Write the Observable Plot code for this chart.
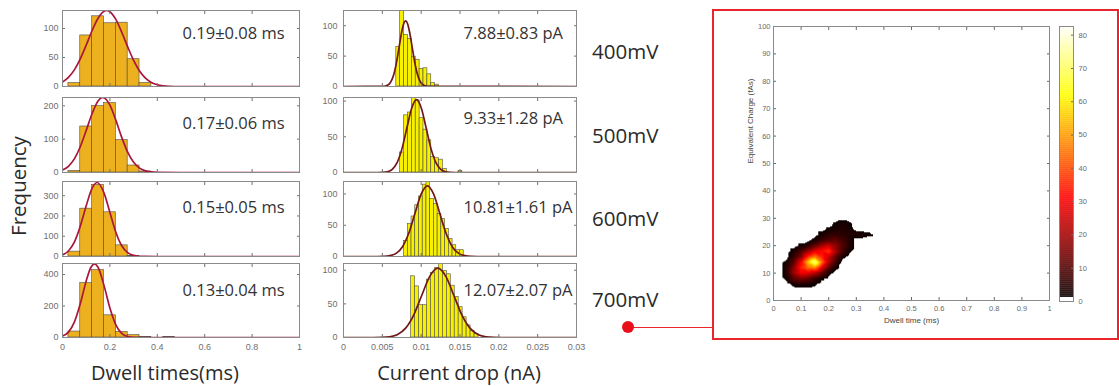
<!DOCTYPE html>
<html><head><meta charset="utf-8">
<script src="https://cdn.jsdelivr.net/npm/d3@7"></script>
<script src="https://cdn.jsdelivr.net/npm/@observablehq/plot@0.6"></script>
<style>
html,body{margin:0;padding:0;background:#fff;}
#fig{position:relative;width:1119px;height:386px;overflow:hidden;background:#fff;}
#fig svg{position:absolute;background:transparent;max-width:none;}
.lbl{position:absolute;white-space:nowrap;line-height:1;color:#2a2a2a;font-family:"Open Sans",sans-serif;}
</style></head><body><div id="fig"></div>
<script>
// ---------- data ----------
const voltages = ["400mV", "500mV", "600mV", "700mV"];
const dwellStats = ["0.19±0.08 ms", "0.17±0.06 ms", "0.15±0.05 ms", "0.13±0.04 ms"];
const currentStats = ["7.88±0.83 pA", "9.33±1.28 pA", "10.81±1.61 pA", "12.07±2.07 pA"];

const dwellBinStart = [0.025, 0.025, 0.025, 0.025];
const dwellBinWidth = [0.05, 0.05, 0.05, 0.05];
const dwellCounts = [
  [6, 88, 121, 109, 110, 47, 6],
  [5, 138, 199, 208, 97, 21, 3],
  [24, 236, 353, 218, 55, 3],
  [38, 345, 428, 141, 36, 15, 3, 0, 2]
];
const dwellFitX = [
  [0, 0.025, 0.05, 0.075, 0.1, 0.125, 0.15, 0.186, 0.2, 0.225, 0.25, 0.275, 0.3, 0.325, 0.35, 0.375, 0.4, 0.45, 0.5, 1],
  [0, 0.025, 0.05, 0.075, 0.1, 0.125, 0.15, 0.17, 0.2, 0.225, 0.25, 0.275, 0.3, 0.325, 0.35, 0.375, 0.4, 0.5, 1],
  [0, 0.025, 0.05, 0.075, 0.1, 0.125, 0.146, 0.175, 0.2, 0.225, 0.25, 0.275, 0.3, 0.325, 0.35, 0.4, 1],
  [0, 0.025, 0.05, 0.075, 0.1, 0.12, 0.135, 0.15, 0.175, 0.2, 0.225, 0.25, 0.275, 0.3, 0.35, 1]
];
const dwellFitY = [
  [7.6, 15.6, 28.6, 47.6, 71.3, 96.5, 117.7, 131, 128.9, 115.6, 93.5, 68.3, 45, 26.8, 14.4, 7, 3, 0.4, 0, 0],
  [7.4, 18.7, 41, 77.3, 126, 177, 214.6, 225, 202, 157, 105.5, 61, 30.4, 13.1, 4.9, 1.6, 0.4, 0, 0],
  [8, 27, 70.8, 149, 250, 337, 365, 314, 217, 120, 53, 18.9, 5.4, 1.2, 0.2, 0, 0],
  [9, 34, 97.6, 214, 359, 446, 468, 446, 331, 187, 80.7, 26.5, 6.7, 1.3, 0, 0]
];
const dwellYMax = [131, 225, 370, 470];
const dwellYTicks = [[0, 50, 100], [0, 100, 200], [0, 100, 200, 300], [0, 200, 400]];
const dwellXTicks = [0, 0.2, 0.4, 0.6, 0.8, 1];

const currentBinStart = [0.0068, 0.0073, 0.0078, 0.00871];
const currentBinWidth = [0.0005, 0.0005, 0.00048, 0.00051];
const currentCounts = [
  [65, 135, 85, 78, 49, 44, 29, 30, 20, 6, 3],
  [28, 80, 84, 110, 101, 76, 60, 45, 22, 20, 18, 5, 0, 0, 0, 2],
  [25, 52, 64, 82, 96, 115, 125, 92, 84, 68, 60, 44, 28, 18, 10, 10],
  [91, 76, 48, 48, 86, 96, 103, 112, 99, 94, 77, 60, 45, 30, 18, 10, 5]
];
const currentFitX = [
  [0, 0.005, 0.0055, 0.006, 0.00625, 0.0065, 0.00675, 0.007, 0.00725, 0.0075, 0.00775, 0.008, 0.00825, 0.0085, 0.00875, 0.009, 0.00925, 0.0095, 0.00975, 0.01, 0.0105, 0.011, 0.03],
  [0, 0.0044, 0.005025, 0.00565, 0.006275, 0.0069, 0.007525, 0.00815, 0.008775, 0.0094, 0.010025, 0.01065, 0.011275, 0.0119, 0.012525, 0.01315, 0.013775, 0.0144, 0.03],
  [0, 0.00436, 0.005165, 0.00597, 0.006775, 0.00758, 0.008385, 0.00919, 0.009995, 0.0108, 0.011605, 0.01241, 0.013215, 0.01402, 0.014825, 0.01563, 0.016435, 0.01724, 0.03],
  [0, 0.00386, 0.004895, 0.00593, 0.006965, 0.008, 0.009035, 0.01007, 0.011105, 0.01214, 0.013175, 0.01421, 0.015245, 0.01628, 0.017315, 0.01835, 0.019385, 0.02042, 0.03]
];
const currentFitY = [
  [0, 0.2, 1.2, 5.9, 11.7, 21.1, 34.7, 52.3, 71.8, 90, 103.2, 108, 103.2, 90, 71.8, 52.3, 34.7, 21.1, 11.7, 5.9, 1.2, 0.2, 0],
  [0, 0, 0.2, 1.1, 4.5, 13.8, 33.1, 61.9, 90, 102, 90, 61.9, 33.1, 13.8, 4.5, 1.1, 0.2, 0, 0],
  [0, 0, 0.25, 1.3, 5, 15.3, 36.7, 68.5, 99.7, 113, 99.7, 68.5, 36.7, 15.3, 5, 1.3, 0.25, 0, 0],
  [0, 0, 0.2, 1.1, 4.5, 13.9, 33.4, 62.5, 90.9, 103, 90.9, 62.5, 33.4, 13.9, 4.5, 1.1, 0.2, 0, 0]
];
const currentYMax = [125, 105, 120, 110];
const currentYTicks = [[0, 50, 100], [0, 50, 100], [0, 50, 100], [0, 50, 100]];
const currentXTicks = [0, 0.005, 0.01, 0.015, 0.02, 0.025, 0.03];

// 2D density (dwell time x equivalent charge), rows from top (high charge) to bottom
const heatX = [0.025, 0.05, 0.075, 0.1, 0.125, 0.15, 0.175, 0.2, 0.225, 0.25, 0.275, 0.3, 0.325, 0.35, 0.375, 0.4];
const heatY = [30, 28, 26, 24, 22, 20, 18, 16, 14, 12, 10, 8, 6, 4];
const heatValues = [
  [0, 0, 0, 0, 0, 0, 0, 0, 0, 0, 0, 0, 0, 0, 0, 0],
  [0, 0, 0, 0, 0, 0, 0, 0, 2, 3, 2, 0, 0, 0, 0, 0],
  [0, 0, 0, 0, 0, 0, 0, 2, 3, 4, 3, 0, 0, 0, 0, 0],
  [0, 0, 0, 0, 0, 0, 3, 5, 6, 5, 4, 4, 3, 2, 0, 0],
  [0, 0, 0, 0, 0, 3, 7, 10, 12, 8, 4, 0, 0, 0, 0, 0],
  [0, 0, 0, 2, 6, 12, 20, 25, 18, 10, 4, 0, 0, 0, 0, 0],
  [0, 0, 3, 9, 18, 28, 32, 38, 20, 8, 2, 0, 0, 0, 0, 0],
  [0, 0, 6, 15, 35, 45, 35, 25, 12, 3, 0, 0, 0, 0, 0, 0],
  [0, 3, 12, 30, 55, 75, 45, 22, 8, 0, 0, 0, 0, 0, 0, 0],
  [0, 5, 18, 35, 45, 48, 28, 12, 3, 0, 0, 0, 0, 0, 0, 0],
  [0, 5, 20, 30, 28, 22, 12, 3, 0, 0, 0, 0, 0, 0, 0, 0],
  [0, 3, 12, 15, 12, 6, 2, 0, 0, 0, 0, 0, 0, 0, 0, 0],
  [0, 0, 3, 4, 3, 2, 0, 0, 0, 0, 0, 0, 0, 0, 0, 0],
  [0, 0, 0, 0, 0, 0, 0, 0, 0, 0, 0, 0, 0, 0, 0, 0]
];
const heatXTicks = [0, 0.1, 0.2, 0.3, 0.4, 0.5, 0.6, 0.7, 0.8, 0.9, 1];
const heatYTicks = [0, 10, 20, 30, 40, 50, 60, 70, 80, 90, 100];
const colorbarTicks = [0, 10, 20, 30, 40, 50, 60, 70, 80];
const colorbarMax = 82.6;

// ---------- layout ----------
const fig = document.getElementById("fig");
function place(node, left, top) {
  node.style.left = left + "px";
  node.style.top = top + "px";
  fig.appendChild(node);
}
function label(text, x, y, size, opts = {}) {
  const d = document.createElement("div");
  d.className = "lbl";
  d.textContent = text;
  d.style.fontSize = size + "px";
  d.style.left = x + "px";
  d.style.top = y + "px";
  const ax = opts.align === "start" ? "0" : "-50%";
  d.style.transform = `translate(${ax},-50%)` + (opts.rotate ? ` rotate(${opts.rotate}deg)` : "");
  fig.appendChild(d);
}

const frames = [[10, 86], [97, 172], [181, 256], [263, 337]];
const textDy = [[23, 26, 26, 27], [23, 21, 26, 27]];
const hotColor = {
  type: "linear",
  domain: [0, 1.29, 1.3, 31, 62, 83],
  range: ["#ffffff", "#ffffff", "#0b0000", "#ff0000", "#ffff00", "#ffffff"],
  interpolate: "rgb"
};
const axisCol = "#707070", frameCol = "#8a8a8a";

function histPanel(col, i) {
  const dwell = col === 0;
  const [t, b] = frames[i];
  const fx0 = dwell ? 62 : 343, fx1 = dwell ? 299 : 576;
  const ML = 40, MR = 6, MT = 3;
  const MB = i === 3 ? 26 : 3;
  const start = dwell ? dwellBinStart[i] : currentBinStart[i];
  const w = dwell ? dwellBinWidth[i] : currentBinWidth[i];
  const counts = dwell ? dwellCounts[i] : currentCounts[i];
  const bars = counts.map((c, k) => ({x1: start + k * w, x2: start + (k + 1) * w, y: c})).filter(d => d.y > 0);
  const fx = dwell ? dwellFitX[i] : currentFitX[i];
  const fy = dwell ? dwellFitY[i] : currentFitY[i];
  const fit = fx.map((x, k) => ({x, y: fy[k]}));
  const xTicks = dwell ? dwellXTicks : currentXTicks;
  const yTicks = dwell ? dwellYTicks[i] : currentYTicks[i];
  const svg = Plot.plot({
    width: ML + (fx1 - fx0) + MR,
    height: MT + (b - t) + MB,
    marginLeft: ML, marginRight: MR, marginTop: MT, marginBottom: MB,
    x: {domain: dwell ? [0, 1] : [0, 0.03]},
    y: {domain: [0, dwell ? dwellYMax[i] : currentYMax[i]]},
    style: {fontFamily: "'Liberation Sans', Arial, sans-serif", fontSize: "9px", color: axisCol, background: "transparent", overflow: "visible"},
    marks: [
      Plot.rect(bars, {x1: "x1", x2: "x2", y1: 0, y2: "y",
        fill: dwell ? "#EDB120" : "#F7F000", stroke: "#4d4d4d", strokeWidth: 0.6, clip: true}),
      Plot.line(fit, {x: "x", y: "y", curve: "monotone-x",
        stroke: dwell ? "#A8173A" : "#701818", strokeWidth: 1.7, clip: true}),
      Plot.text([dwell ? dwellStats[i] : currentStats[i]], {
        text: d => d, frameAnchor: "top-left", dx: 120, dy: textDy[col][i],
        textAnchor: "start", lineAnchor: "middle", fontSize: 16.5,
        fontFamily: "'Open Sans', sans-serif", fill: "#333"}),
      Plot.axisY({anchor: "left", ticks: yTicks, tickSize: -3, tickPadding: dwell ? 7 : 9, label: null}),
      Plot.axisY({anchor: "right", ticks: yTicks, tickSize: -3, tickFormat: () => "", label: null}),
      Plot.axisX({anchor: "top", ticks: xTicks, tickSize: -3, tickFormat: () => "", label: null}),
      Plot.axisX({anchor: "bottom", ticks: xTicks, tickSize: -3, tickPadding: 9,
        tickFormat: i === 3 ? (d => String(d)) : (() => ""), label: null}),
      Plot.frame({stroke: frameCol, strokeWidth: 1})
    ]
  });
  place(svg, fx0 - ML, t - MT);
}
for (let c = 0; c < 2; c++) for (let i = 0; i < 4; i++) histPanel(c, i);

// heatmap
const heatPts = [];
heatY.forEach((y, r) => heatX.forEach((x, c) => heatPts.push({x, y, v: heatValues[r][c]})));
{
  const ML = 30, MR = 4, MT = 5, MB = 30;
  const svg = Plot.plot({
    width: ML + 276 + MR, height: MT + 274 + MB,
    marginLeft: ML, marginRight: MR, marginTop: MT, marginBottom: MB,
    x: {domain: [0, 1]}, y: {domain: [0, 100]},
    color: hotColor,
    style: {fontFamily: "'Liberation Sans', Arial, sans-serif", fontSize: "7.5px", color: "#6a6a6a", background: "transparent", overflow: "visible"},
    marks: [
      Plot.raster(heatPts, {x: "x", y: "y", fill: "v", interpolate: "barycentric",
        x1: heatX[0], x2: heatX[heatX.length - 1], y1: heatY[heatY.length - 1], y2: heatY[0], pixelSize: 1}),
      Plot.axisY({anchor: "left", ticks: heatYTicks, tickSize: -3, tickPadding: 6, label: null}),
      Plot.axisY({anchor: "right", ticks: heatYTicks, tickSize: -3, tickFormat: () => "", label: null}),
      Plot.axisX({anchor: "top", ticks: heatXTicks, tickSize: -3, tickFormat: () => "", label: null}),
      Plot.axisX({anchor: "bottom", ticks: heatXTicks, tickSize: -3, tickPadding: 8, tickFormat: d => String(d), label: null}),
      Plot.frame({stroke: frameCol}),
      Plot.text(["Dwell time (ms)"], {text: d => d, frameAnchor: "bottom", dy: 20, fontSize: 8, fill: "#444", lineAnchor: "middle"}),
      Plot.text(["Equivalent Charge (fAs)"], {text: d => d, frameAnchor: "left", dx: -23, rotate: -90, fontSize: 8, fill: "#444", lineAnchor: "middle"})
    ]
  });
  place(svg, 773 - ML, 26 - MT);
}
// colorbar
{
  const ML = 2, MR = 24, MT = 5, MB = 6;
  const step = 0.2;
  const ramp = d3.range(0, colorbarMax, step);
  const svg = Plot.plot({
    width: ML + 14 + MR, height: MT + 275 + MB,
    marginLeft: ML, marginRight: MR, marginTop: MT, marginBottom: MB,
    x: {domain: [0, 1], axis: null}, y: {domain: [0, colorbarMax]},
    color: hotColor,
    style: {fontFamily: "'Liberation Sans', Arial, sans-serif", fontSize: "7.5px", color: "#6a6a6a", background: "transparent", overflow: "visible"},
    marks: [
      Plot.rect(ramp, {x1: 0, x2: 1, y1: d => d, y2: d => Math.min(d + step + 0.05, colorbarMax), fill: d => d + step / 2}),
      Plot.axisY({anchor: "right", ticks: colorbarTicks, tickSize: -3, tickPadding: 8, label: null}),
      Plot.frame({stroke: frameCol})
    ]
  });
  place(svg, 1059 - ML, 26 - MT);
}

// outer labels
label("Frequency", 18, 186, 20.5, {rotate: -90});
label("Dwell times(ms)", 165, 373, 20);
label("Current drop (nA)", 459, 373, 20);
const vY = [51, 135, 218, 299];
voltages.forEach((v, k) => label(v, 592, vY[k], 20.5, {align: "start"}));

// red callout box, connector and dot
{
  const box = document.createElement("div");
  Object.assign(box.style, {position: "absolute", left: "712px", top: "9px", width: "403px", height: "327px", border: "2px solid #e8262b"});
  fig.appendChild(box);
  const line = document.createElement("div");
  Object.assign(line.style, {position: "absolute", left: "628px", top: "327px", width: "85px", height: "1px", background: "#e8262b"});
  fig.appendChild(line);
  const dot = document.createElement("div");
  Object.assign(dot.style, {position: "absolute", left: "622px", top: "321px", width: "12px", height: "12px", borderRadius: "50%", background: "#e8101a"});
  fig.appendChild(dot);
}
</script></body></html>
